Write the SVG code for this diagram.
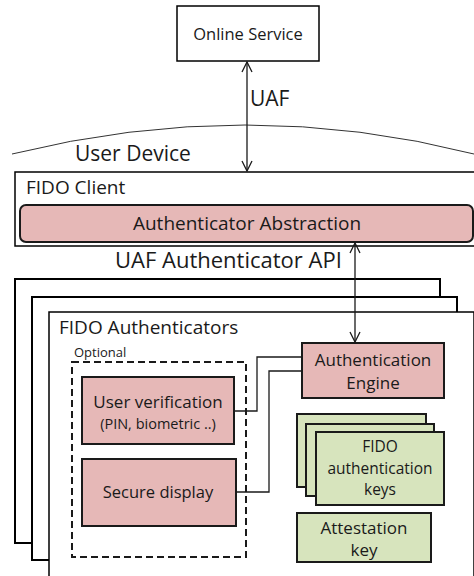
<svg xmlns="http://www.w3.org/2000/svg" width="474" height="576" viewBox="0 0 474 576">
<defs>
<style>
text{font-family:"Open Sans",Lato,"Liberation Sans",sans-serif;fill:#1a1a1a}
.c{text-anchor:middle}
.box{fill:#fff;stroke:#000;stroke-width:1.5}
.frame{fill:#fff;stroke:#000;stroke-width:2}
.pink{fill:#e6b8b7;stroke:#1a1a1a;stroke-width:2}
.green{fill:#d7e4bd;stroke:#1a1a1a;stroke-width:2}
.ln{fill:none;stroke:#1a1a1a;stroke-width:1.3}
</style>
<marker id="ah" viewBox="0 0 12 12" refX="11" refY="6" markerWidth="12" markerHeight="12" markerUnits="userSpaceOnUse" orient="auto-start-reverse">
<path d="M1,1 L11,6 L1,11" fill="none" stroke="#1a1a1a" stroke-width="1.3"/>
</marker>
</defs>
<path d="M12,154 Q247,96 474,154" fill="none" stroke="#333" stroke-width="1"/>
<text x="75" y="161" font-size="21">User Device</text>
<g id="online-service">
<rect class="box" x="177" y="6" width="142" height="55"/>
<text class="c" x="248" y="40" font-size="16.5">Online Service</text>
</g>
<g id="fido-client">
<rect class="box" x="15" y="172" width="460" height="74"/>
<text x="26" y="194" font-size="19">FIDO  Client</text>
</g>
<g id="authenticator-abstraction">
<rect class="pink" x="20" y="205" width="453" height="37" rx="6"/>
<text class="c" x="247" y="230" font-size="19">Authenticator Abstraction</text>
</g>
<text x="115" y="268" font-size="22">UAF Authenticator API</text>
<g id="authenticator-stack">
<rect class="frame" x="15" y="279" width="425" height="264"/>
<rect class="frame" x="32" y="297" width="425" height="263"/>
<rect class="box" x="49" y="312" width="425" height="270"/>
<text x="59" y="334" font-size="19">FIDO Authenticators</text>
</g>
<g id="optional">
<rect fill="none" stroke="#1a1a1a" stroke-width="2" stroke-dasharray="7,4" x="72" y="362" width="174" height="195"/>
<text x="74" y="357" font-size="13">Optional</text>
</g>
<g id="user-verification">
<rect class="pink" x="82" y="377" width="152" height="67"/>
<text class="c" x="158" y="408" font-size="17">User verification</text>
<text class="c" x="158" y="429" font-size="14.5">(PIN, biometric ..)</text>
</g>
<g id="secure-display">
<rect class="pink" x="82" y="459" width="154" height="67"/>
<text class="c" x="158" y="498" font-size="16.5">Secure display</text>
</g>
<g id="authentication-engine">
<rect class="pink" x="302" y="343" width="142" height="55"/>
<text class="c" x="373" y="366" font-size="17">Authentication</text>
<text class="c" x="373" y="389" font-size="17">Engine</text>
</g>
<g id="fido-keys">
<rect class="green" x="297" y="414" width="129" height="73"/>
<rect class="green" x="306" y="424" width="128" height="72"/>
<rect class="green" x="316" y="432" width="128" height="73"/>
<text class="c" x="380" y="452" font-size="15.5">FIDO</text>
<text class="c" x="380" y="474" font-size="15.5">authentication</text>
<text class="c" x="380" y="495" font-size="15.5">keys</text>
</g>
<g id="attestation-key">
<rect class="green" x="297" y="513" width="134" height="49"/>
<text class="c" x="364" y="534" font-size="17">Attestation</text>
<text class="c" x="364" y="556" font-size="17">key</text>
</g>
<g id="connectors">
<line class="ln" x1="247" y1="62" x2="247" y2="171" marker-start="url(#ah)" marker-end="url(#ah)"/>
<text x="250" y="106" font-size="21">UAF</text>
<line class="ln" x1="355" y1="243" x2="355" y2="342" marker-start="url(#ah)" marker-end="url(#ah)"/>
<polyline class="ln" points="234,411 257,411 257,357 302,357"/>
<polyline class="ln" points="236,492 269,492 269,371 302,371"/>
</g>
</svg>
